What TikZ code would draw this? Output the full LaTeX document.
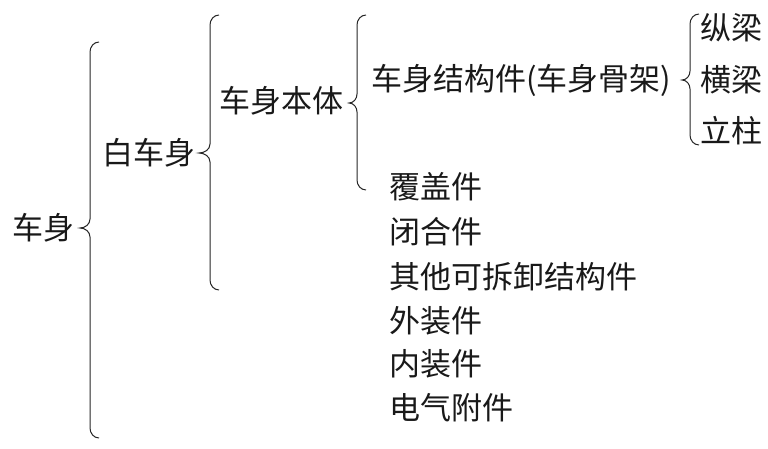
\documentclass[tikz,border=0pt]{standalone}
\usepackage{fontspec}
\setmainfont{Noto Sans CJK SC}
\begin{document}
\begin{tikzpicture}[x=1pt,y=-1pt,
  lbl/.style={anchor=west,inner sep=0pt,font=\fontsize{31}{33}\selectfont,text=black!90},
  brc/.style={line width=1pt,black!85}]
\useasboundingbox (0,0) rectangle (768,449);
\newcommand{\mybrace}[5]{% v, t, a, b, m
  \draw[brc] (#1+9,#3) to[out=180,in=90] (#1,#3+10) -- (#1,#5-9)
    to[out=-90,in=0] (#2,#5) to[out=0,in=90] (#1,#5+9) -- (#1,#4-10)
    to[out=-90,in=180] (#1+9,#4);}
\node[lbl] (cs) at (12,228) {车身};
\node[lbl] (bcs) at (102,153) {白车身};
\node[lbl] (csbt) at (219,101) {车身本体};
\node[lbl] (jgj) at (371,80) {车身结构件(车身骨架)};
\node[lbl] (zl) at (700,28) {纵梁};
\node[lbl] (hl) at (700,80) {横梁};
\node[lbl] (lz) at (700,131) {立柱};
\node[lbl] (fgj) at (389,187) {覆盖件};
\node[lbl] (bhj) at (389,232) {闭合件};
\node[lbl] (qt) at (389,277) {其他可拆卸结构件};
\node[lbl] (wzj) at (389,321) {外装件};
\node[lbl] (nzj) at (389,364) {内装件};
\node[lbl] (dq) at (389,408) {电气附件};
\mybrace{90}{80}{42}{438}{228}
\mybrace{210}{199}{15}{290}{153}
\mybrace{357}{349}{15}{190}{103}
\mybrace{690}{682}{14}{145}{80}
\end{tikzpicture}
\end{document}
